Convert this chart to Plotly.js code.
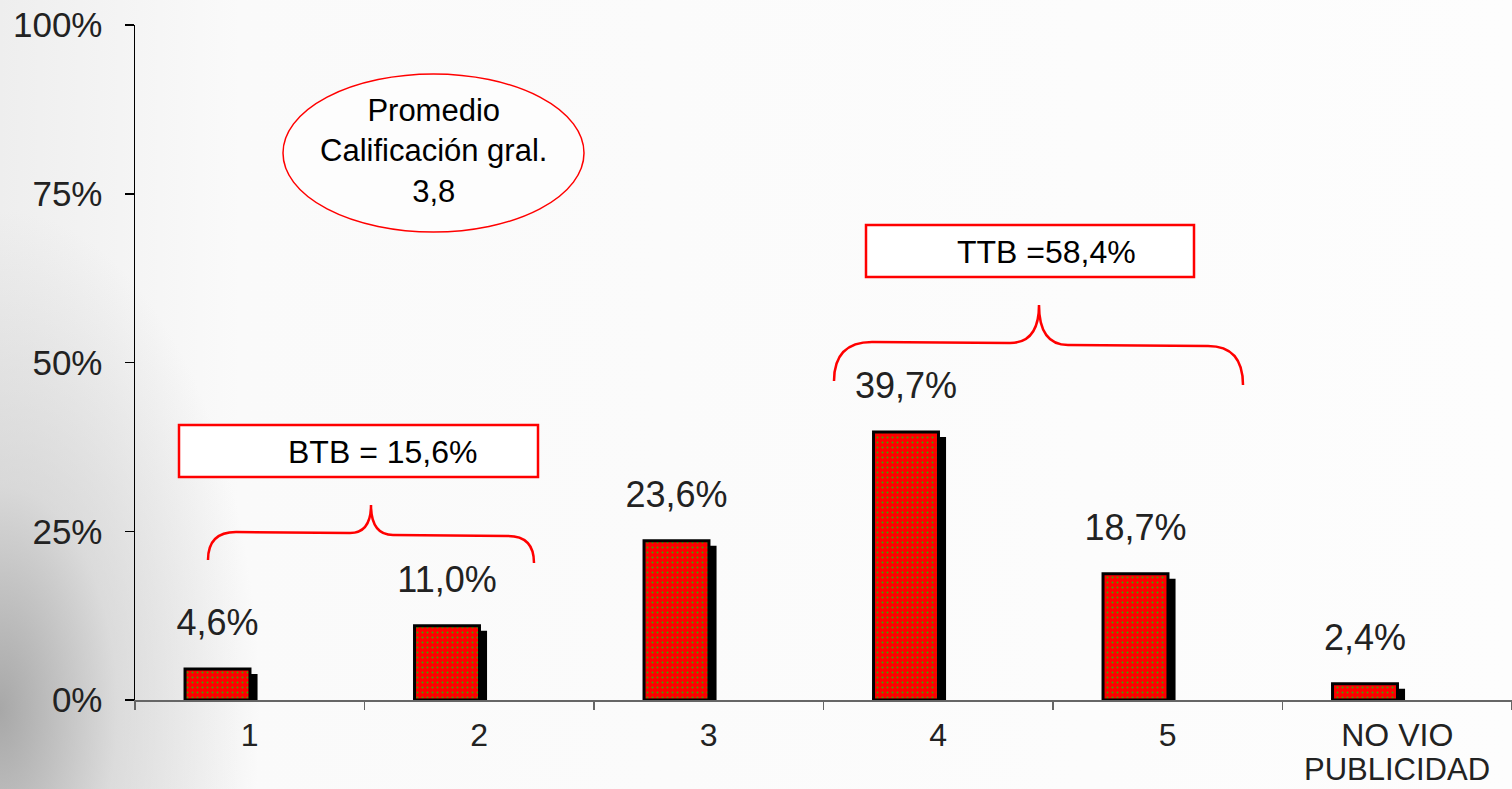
<!DOCTYPE html>
<html>
<head>
<meta charset="utf-8">
<script src="https://cdn.plot.ly/plotly-3.0.1.min.js"></script>
<style>
  html, body { margin: 0; padding: 0; }
  body {
    width: 1512px; height: 789px; overflow: hidden;
    background:
      radial-gradient(ellipse 260px 500px at 0% 90%, rgba(150,150,150,0.8) 0%, rgba(195,195,195,0.5) 45%, rgba(255,255,255,0) 100%),
      linear-gradient(to right, #eeeeee 0px, #fafafa 240px, #fdfdfd 100%);
  }
  #chart { width: 1512px; height: 789px; }
</style>
</head>
<body>
<div id="chart"></div>
<script>
// ---- data ----
const categories = ['1', '2', '3', '4', '5', 'NO VIO PUBLICIDAD'];
const xTickText = ['1', '2', '3', '4', '5', 'NO VIO'];
const xTickSecondLine = 'PUBLICIDAD';
const values = [4.6, 11.0, 23.6, 39.7, 18.7, 2.4];
const yTickVals = [0, 25, 50, 75, 100];
const yTickText = ['0%', '25%', '50%', '75%', '100%'];
const summaryText = 'Promedio<br>Calificación gral.<br>3,8';
const ttbText = 'TTB =58,4%';
const btbText = 'BTB = 15,6%';

// value labels in Spanish decimal format
const valueLabels = values.map(v => v.toFixed(1).replace('.', ',') + '%');

// ---- layout helpers (pixel -> paper) ----
const W = 1512, H = 789;
const M = { l: 135, r: 0, t: 25, b: 89 };
const PW = W - M.l - M.r, PH = H - M.t - M.b;
const px = x => (x - M.l) / PW;
const py = y => (H - M.b - y) / PH;
const P = (x, y) => px(x).toFixed(5) + ',' + py(y).toFixed(5);

const RED = '#ff0000';
const FONT = '"Liberation Sans", Arial, sans-serif';

const shadowDrop = 0.75;   // shadow top sits slightly lower than the bar
const labelGap = 3.4;      // invisible carrier height for value labels

const traces = [
  { // drop shadow
    type: 'bar', x: categories, y: values.map(v => v - shadowDrop),
    offset: -0.254, width: 0.288,
    marker: { color: '#000000', line: { width: 0 } },
    hoverinfo: 'skip', showlegend: false
  },
  { // main bars
    type: 'bar', x: categories, y: values,
    offset: -0.282, width: 0.283,
    marker: {
      color: RED,
      line: { color: '#000000', width: 3 },
      pattern: { shape: '.', fgcolor: '#2fb000', bgcolor: RED, size: 5, solidity: 0.12, fillmode: 'replace' }
    },
    hovertemplate: '%{x}: %{y:.1f}%<extra></extra>', showlegend: false
  },
  { // value labels carried by an invisible bar on top of each bar
    type: 'bar', x: categories, y: values.map(() => labelGap), base: values,
    offset: -0.282, width: 0.283,
    marker: { color: 'rgba(0,0,0,0)', line: { width: 0 } },
    text: valueLabels, textposition: 'outside', constraintext: 'none', cliponaxis: false,
    textfont: { family: FONT, size: 36, color: '#222222' },
    hoverinfo: 'skip', showlegend: false
  }
];

function bracePath(x0, y0, xc1, yh1, xt, yt, yh2, xc2, x1, y1, xa, xb) {
  return 'M' + P(x0, y0) +
    ' Q' + P(x0, yh1) + ' ' + P(xc1, yh1) +
    ' L' + P(xa, yh1 + 1) +
    ' Q' + P(xt, yh1 + 1) + ' ' + P(xt, yt) +
    ' Q' + P(xt, yh2) + ' ' + P(xb, yh2) +
    ' L' + P(xc2, yh2 + 1) +
    ' Q' + P(x1, yh2 + 1) + ' ' + P(x1, y1);
}

const shapes = [
  { type: 'circle', xref: 'paper', yref: 'paper',
    x0: px(283), x1: px(584), y0: py(232), y1: py(74),
    line: { color: RED, width: 1.5 }, fillcolor: 'rgba(255,255,255,0.6)', layer: 'above' },
  { type: 'rect', xref: 'paper', yref: 'paper',
    x0: px(866), x1: px(1194), y0: py(277), y1: py(225),
    line: { color: RED, width: 2.5 }, fillcolor: '#ffffff', layer: 'above' },
  { type: 'rect', xref: 'paper', yref: 'paper',
    x0: px(179), x1: px(538), y0: py(477), y1: py(425),
    line: { color: RED, width: 2.5 }, fillcolor: '#ffffff', layer: 'above' },
  { type: 'path', xref: 'paper', yref: 'paper',
    path: bracePath(208, 560, 236, 532, 371, 505, 535, 508, 534, 563, 350, 393),
    line: { color: RED, width: 2.5 }, layer: 'above' },
  { type: 'path', xref: 'paper', yref: 'paper',
    path: bracePath(834, 381, 872, 342, 1039, 305, 345, 1208, 1243, 385, 1010, 1068),
    line: { color: RED, width: 2.5 }, layer: 'above' }
];

const annotations = [
  { xref: 'paper', yref: 'paper', x: px(433), y: py(151), text: summaryText,
    showarrow: false, xanchor: 'center', yanchor: 'middle',
    font: { family: FONT, size: 31, color: '#000000' }, align: 'center' },
  { xref: 'paper', yref: 'paper', x: px(1046), y: py(252), text: ttbText,
    showarrow: false, xanchor: 'center', yanchor: 'middle',
    font: { family: FONT, size: 32, color: '#000000' } },
  { xref: 'paper', yref: 'paper', x: px(382), y: py(452), text: btbText,
    showarrow: false, xanchor: 'center', yanchor: 'middle',
    font: { family: FONT, size: 32, color: '#000000' } },
  { // second line of the last category label (tighter line spacing than Plotly's default)
    xref: 'x', yref: 'paper', x: categories[categories.length - 1], y: py(H - 1),
    text: xTickSecondLine, showarrow: false, xanchor: 'center', yanchor: 'bottom',
    borderpad: 0,
    font: { family: FONT, size: 31, color: '#222222' } }
];

const layout = {
  width: W, height: H,
  margin: M,
  paper_bgcolor: 'rgba(0,0,0,0)', plot_bgcolor: 'rgba(0,0,0,0)',
  barmode: 'overlay',
  showlegend: false,
  font: { family: FONT, color: '#222222' },
  xaxis: {
    type: 'category', categoryorder: 'array', categoryarray: categories,
    range: [-0.5, categories.length - 0.5],
    tickmode: 'array', tickvals: categories, ticktext: xTickText,
    tickson: 'boundaries', ticks: 'outside', ticklen: 8, tickwidth: 1.5, tickcolor: '#666666',
    showline: true, linecolor: '#666666', linewidth: 1.5,
    showgrid: false, zeroline: false,
    tickfont: { family: FONT, size: 32, color: '#222222' },
    ticklabelstandoff: 6, fixedrange: true
  },
  yaxis: {
    range: [0, 100], tickmode: 'array', tickvals: yTickVals, ticktext: yTickText,
    ticks: 'outside', ticklen: 9, tickwidth: 1.5, tickcolor: '#000000',
    showline: true, linecolor: '#000000', linewidth: 1.5,
    showgrid: false, zeroline: false,
    tickfont: { family: FONT, size: 35, color: '#222222' },
    ticklabelstandoff: 15, fixedrange: true
  },
  shapes: shapes,
  annotations: annotations
};

Plotly.newPlot('chart', traces, layout, { displayModeBar: false, staticPlot: true });
</script>
</body>
</html>
